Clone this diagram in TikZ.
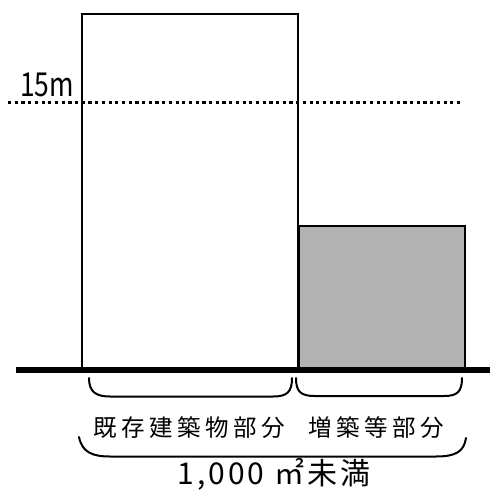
\documentclass[tikz,border=0pt]{standalone}
\usepackage{fontspec}
\setmainfont{Noto Sans CJK JP}
\newfontfamily\jpspaced[LetterSpace=19]{Noto Sans CJK JP}
\newfontfamily\jparea[LetterSpace=10]{Noto Sans CJK JP}
\tikzset{bracket/.style={line width=1pt, line cap=round}}

\begin{document}
\begin{tikzpicture}[x=0.5pt, y=-0.5pt]
      \useasboundingbox (0,0) rectangle (490,493);
      %% buildings
      \draw[line width=0.7pt] (82,14) rectangle (298,369);
      \draw[line width=0.6pt, fill=black!30] (299,226) rectangle (465,369);

      %% 15m line
      \draw[line width=1.6pt, dash pattern=on 1.6pt off 1.75pt] (8,102.5) -- (462,102.5);
      \node (height) at (47,85) {\fontsize{16.5pt}{17pt}\selectfont\scalebox{0.8}[1]{15m}};

      %% ground
      \draw[line width=3pt] (16,369.7) -- (490,369.7);

      %% brackets
      \coordinate (oldL) at (89,378);   \coordinate (oldR) at (292,378);
      \coordinate (newL) at (296,378);  \coordinate (newR) at (462,378);
      \coordinate (allL) at (79,437);   \coordinate (allR) at (466,438);
      \draw[bracket] (oldL) .. controls (89,392) and (96,396.5) .. (110,396.5) -- (273,396.5)
            .. controls (287,396.5) and (292,392) .. (oldR);
      \draw[bracket] (newL) .. controls (296,392) and (301,396) .. (315,396) -- (444,396)
            .. controls (457,396) and (462,392) .. (newR);
      \draw[bracket] (allL) .. controls (82,452) and (92,456.5) .. (110,456.5) -- (436,456.5)
            .. controls (455,456.5) and (464,452) .. (allR);

      \node (old) at (189,427.5) {\jpspaced\fontsize{11.75pt}{12pt}\selectfont 既存建築物部分};
      \node (new) at (376,427.5) {\jpspaced\fontsize{11.75pt}{12pt}\selectfont 増築等部分};
      \node (area) at (274,474) {\jparea\fontsize{15pt}{15pt}\selectfont 1,000 ㎡未満};

    \end{tikzpicture}
\end{document}
